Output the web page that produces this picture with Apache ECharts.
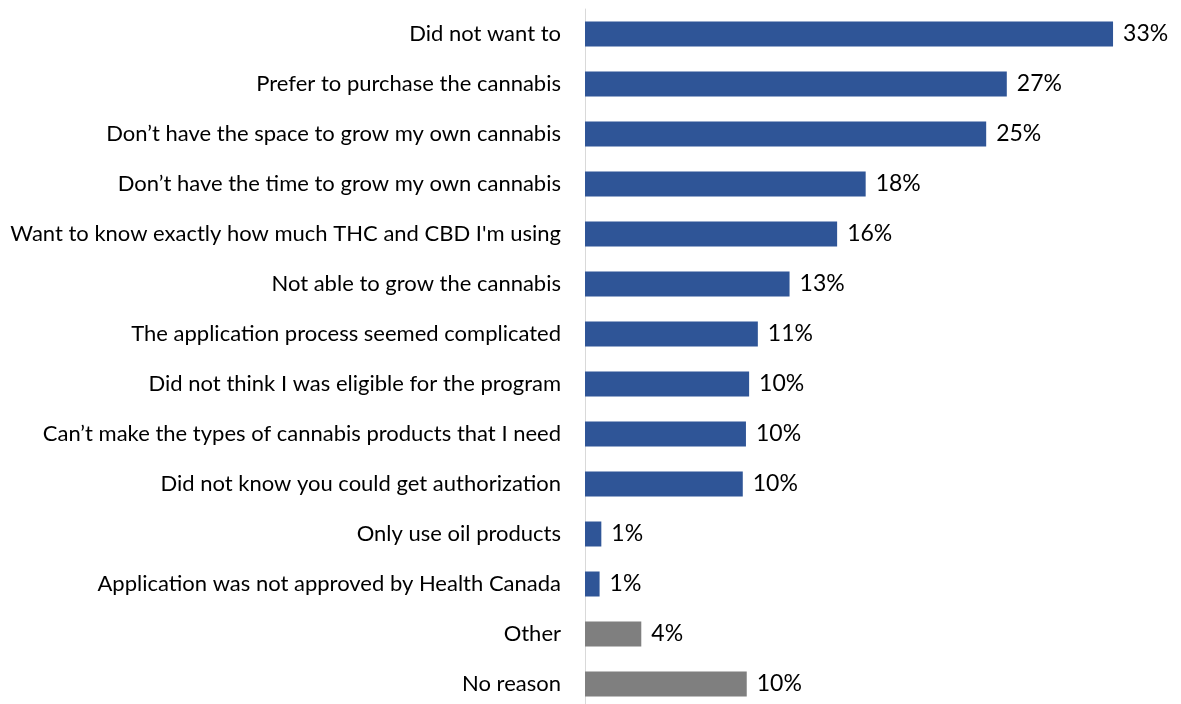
<!DOCTYPE html>
<html>
<head>
<meta charset="utf-8">
<script src="https://cdn.jsdelivr.net/npm/echarts@6/dist/echarts.min.js"></script>
<style>html,body{margin:0;padding:0;background:#fff;overflow:hidden}#c{width:1181px;height:712px}</style>
</head>
<body>
<div id="c"></div>
<script>
const categories = [
  "Did not want to",
  "Prefer to purchase the cannabis",
  "Don\u2019t have the space to grow my own cannabis",
  "Don\u2019t have the time to grow my own cannabis",
  "Want to know exactly how much THC and CBD I'm using",
  "Not able to grow the cannabis",
  "The application process seemed complicated",
  "Did not think I was eligible for the program",
  "Can\u2019t make the types of cannabis products that I need",
  "Did not know you could get authorization",
  "Only use oil products",
  "Application was not approved by Health Canada",
  "Other",
  "No reason"
];
const values = [33.3, 26.6, 25.3, 17.7, 15.9, 12.9, 10.9, 10.35, 10.15, 9.95, 1.03, 0.92, 3.55, 10.2];
const labels = ["33%", "27%", "25%", "18%", "16%", "13%", "11%", "10%", "10%", "10%", "1%", "1%", "4%", "10%"];
const groups = ["reason","reason","reason","reason","reason","reason","reason","reason","reason","reason","reason","reason","other","other"];
const colors = { reason: "#2F5597", other: "#7F7F7F" };

const chart = echarts.init(document.getElementById('c'), null, { renderer: 'canvas' });
const FONT = 'Lato';
chart.setOption({
  animation: false,
  grid: { left: 585, top: 9, height: 700, width: 555, containLabel: false },
  xAxis: {
    type: 'value', min: 0, max: 35,
    show: false
  },
  yAxis: {
    type: 'category',
    data: categories,
    inverse: true,
    axisLine: { show: true, lineStyle: { color: '#D9D9D9', width: 1 } },
    axisTick: { show: false },
    axisLabel: { color: '#000', fontSize: 22, fontFamily: FONT, margin: 24 }
  },
  series: [{
    type: 'bar',
    barWidth: 25,
    data: values.map((v, i) => ({ value: v, itemStyle: { color: colors[groups[i]] } })),
    label: {
      show: true, position: 'right', distance: 10,
      color: '#000', fontSize: 23, fontFamily: FONT,
      formatter: p => labels[p.dataIndex]
    }
  }]
});
</script>
</body>
</html>
